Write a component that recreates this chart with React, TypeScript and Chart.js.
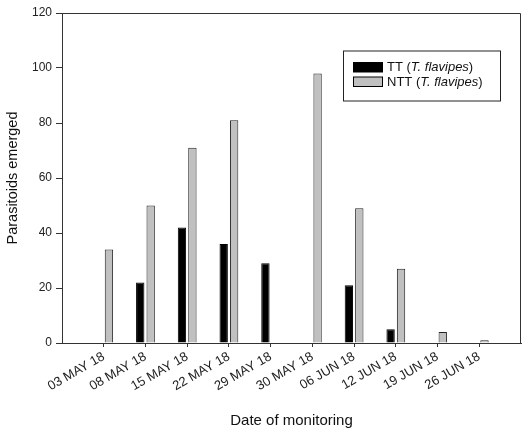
import React, { useEffect, useRef } from 'react';
import { Chart, registerables } from 'chart.js';

Chart.register(...registerables);

const dates = [
  '03 MAY 18', '08 MAY 18', '15 MAY 18', '22 MAY 18', '29 MAY 18',
  '30 MAY 18', '06 JUN 18', '12 JUN 18', '19 JUN 18', '26 JUN 18',
];
const ttValues = [0, 22, 42, 36, 29, 0, 21, 5, 0, 0];
const nttValues = [34, 50, 71, 81, 0, 98, 49, 27, 4, 1];
const yMin = 0;
const yMax = 120;
const yStep = 20;
const seriesNames = ['TT', 'NTT'];
const speciesName = 'T. flavipes';
const xTitle = 'Date of monitoring';
const yTitle = 'Parasitoids emerged';

const FONT = 'Arial, "Liberation Sans", sans-serif';
const AXIS = '#333333';
const TT_COLOR = '#000000';
const NTT_COLOR = '#c0c0c0';

const framePlugin = {
  id: 'frame',
  afterDraw(chart: any) {
    const { ctx, chartArea } = chart;
    const { left, right, top, bottom } = chartArea;
    ctx.save();
    ctx.strokeStyle = AXIS;
    ctx.lineWidth = 1;
    ctx.beginPath();
    ctx.moveTo(left, top + 0.5);
    ctx.lineTo(right - 0.5, top + 0.5);
    ctx.lineTo(right - 0.5, bottom);
    ctx.stroke();

    // legend
    const bx = left + 281;
    const by = top + 37.5;
    const bw = 157;
    const bh = 50;
    ctx.fillStyle = '#ffffff';
    ctx.fillRect(bx, by, bw, bh);
    ctx.strokeStyle = '#222222';
    ctx.strokeRect(bx + 0.5, by + 0.5, bw, bh);

    const items = [
      { name: seriesNames[0], color: TT_COLOR },
      { name: seriesNames[1], color: NTT_COLOR },
    ];
    items.forEach((it, i) => {
      const sy = by + 12 + i * 14.5;
      ctx.fillStyle = it.color;
      ctx.fillRect(bx + 10.5, sy, 29, 9.5);
      ctx.strokeStyle = '#000000';
      ctx.strokeRect(bx + 10.5, sy, 29, 9.5);
      let tx = bx + 44;
      const ty = sy + 5;
      ctx.textBaseline = 'middle';
      ctx.fillStyle = '#111111';
      const segs = [
        { t: it.name + ' (', it: false },
        { t: speciesName, it: true },
        { t: ')', it: false },
      ];
      segs.forEach((s) => {
        ctx.font = `${s.it ? 'italic ' : ''}13px ${FONT}`;
        ctx.fillText(s.t, tx, ty);
        tx += ctx.measureText(s.t).width;
      });
    });
    ctx.restore();
  },
};

export default function App() {
  const ref = useRef<HTMLCanvasElement | null>(null);

  useEffect(() => {
    document.body.style.margin = '0';
    const canvas = ref.current;
    if (!canvas) return;
    const labels = ['', ...dates, ''];
    const pad = (arr: number[]) => [null, ...arr, null];
    const lastIdx = labels.length - 1;

    const chart = new Chart(canvas, {
      type: 'bar',
      data: {
        labels,
        datasets: [
          {
            label: seriesNames[0],
            data: pad(ttValues) as any,
            backgroundColor: TT_COLOR,
            borderColor: '#000000',
            borderWidth: 1,
            categoryPercentage: 0.5,
            barPercentage: 0.8,
          },
          {
            label: seriesNames[1],
            data: pad(nttValues) as any,
            backgroundColor: NTT_COLOR,
            borderColor: '#222222',
            borderWidth: 1,
            categoryPercentage: 0.5,
            barPercentage: 0.8,
          },
        ],
      },
      options: {
        responsive: false,
        animation: false,
        devicePixelRatio: 1,
        layout: { padding: { top: 13, right: 4, left: 0, bottom: 0 } },
        plugins: {
          legend: { display: false },
          tooltip: { enabled: false },
        },
        scales: {
          x: {
            type: 'category',
            offset: false,
            grid: {
              offset: false,
              drawOnChartArea: false,
              drawTicks: true,
              tickLength: 4,
              tickColor: (ctx: any) =>
                ctx.index === 0 || ctx.index === lastIdx ? 'rgba(0,0,0,0)' : AXIS,
            },
            border: { color: AXIS, width: 1 },
            ticks: {
              autoSkip: false,
              maxRotation: 30,
              minRotation: 30,
              padding: 2,
              color: '#222222',
              font: { family: FONT, size: 13 },
            },
            title: {
              display: true,
              text: xTitle,
              color: '#111111',
              font: { family: FONT, size: 15 },
              padding: { top: 4, bottom: 4 },
            },
            afterFit: (scale: any) => {
              scale.height = 91;
              scale.paddingRight = 0;
              scale.paddingLeft = 0;
            },
          },
          y: {
            min: yMin,
            max: yMax,
            ticks: {
              stepSize: yStep,
              padding: 4,
              color: '#222222',
              font: { family: FONT, size: 12 },
            },
            grid: {
              drawOnChartArea: false,
              drawTicks: true,
              tickLength: 6,
              tickColor: AXIS,
            },
            border: { color: AXIS, width: 1 },
            title: {
              display: true,
              text: yTitle,
              color: '#111111',
              font: { family: FONT, size: 14.5 },
              padding: { top: 4, bottom: 4 },
            },
            afterFit: (scale: any) => {
              scale.width = 62;
            },
          },
        },
      },
      plugins: [framePlugin],
    });
    return () => chart.destroy();
  }, []);

  return (
    <div style={{ width: 525, height: 434 }}>
      <canvas ref={ref} width={525} height={434} style={{ display: 'block' }} />
    </div>
  );
}
